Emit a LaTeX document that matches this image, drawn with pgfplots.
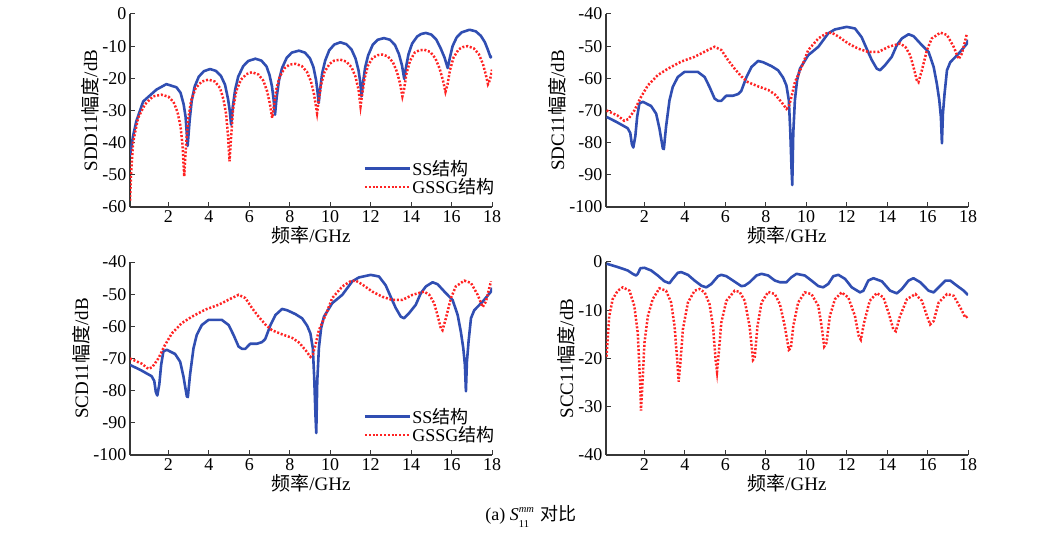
\documentclass[border=0pt]{standalone}
\usepackage{fontspec}
\setmainfont{Liberation Serif}
\newfontfamily\cjk{Noto Sans CJK SC}
\usepackage{pgfplots}
\pgfplotsset{compat=1.18}
\definecolor{sblue}{RGB}{48,78,178}
\definecolor{sred}{RGB}{255,35,35}
\definecolor{axgray}{RGB}{55,55,55}
\pgfplotsset{
 myaxis/.style={
  width=362pt,height=193pt,scale only axis,
  axis x line*=bottom, axis y line*=left,
  axis line style={axgray,line width=1.3pt,-},
  tick align=inside, major tick length=5pt,
  tick style={axgray,line width=1pt},
  xmin=0.1,xmax=18, xtick={2,4,...,18},
  /pgf/number format/assume math mode=true,
  tick label style={font=\fontsize{18}{18}\selectfont},
  label style={font=\fontsize{19}{19}\selectfont},
  xlabel={{\cjk 频率}/GHz},
  xlabel style={yshift=3pt},
  ylabel style={yshift=-3pt},
  legend cell align=left,
  legend style={draw=none,fill=none,font=\fontsize{18}{18}\selectfont,
    at={(0.645,0.25)},anchor=north west,row sep=0pt,inner sep=0pt,
    nodes={inner sep=1pt}},
  legend image code/.code={\draw[##1] (0pt,0pt) -- (45pt,0pt);},
 },
 ss/.style={sblue,line width=2.6pt,line join=round},
 gs/.style={sred,line width=2.5pt,dash pattern=on 2pt off 1.8pt},
}
\begin{document}
\begin{tikzpicture}[x=1pt,y=1pt]
\path[use as bounding box] (0,0) rectangle (1052,535);

% ---------- SDD11 ----------
\begin{axis}[myaxis, at={(130pt,328pt)}, anchor=south west,
  ymin=-60,ymax=0,ytick={-60,-50,...,0}, ylabel={SDD11{\cjk 幅度}/dB}]
\addplot[ss] coordinates {
(0.1,-44)(0.25,-38)(0.41,-33.4)(0.75,-27.2)(1.41,-23.5)(1.9,-21.8)
(2.4,-22.8)(2.6,-24.5)(2.75,-28)(2.85,-32)(2.95,-41)
(3.05,-33)(3.15,-27)(3.3,-22.5)(3.5,-19.5)(3.75,-17.8)(4.06,-17.1)(4.35,-17.7)(4.6,-19.3)(4.8,-22)(4.95,-26.5)(5.03,-30)(5.1,-34.4)
(5.18,-29)(5.3,-23.5)(5.45,-19.5)(5.7,-16.2)(5.95,-14.6)(6.3,-13.9)(6.6,-14.5)(6.85,-16.3)(7.0,-19)(7.12,-22.5)(7.2,-26.5)(7.27,-31.3)
(7.35,-26)(7.47,-20.5)(7.62,-16.8)(7.85,-13.6)(8.1,-12)(8.45,-11.4)(8.75,-12)(9.0,-13.8)(9.17,-16.5)(9.3,-20.5)(9.37,-24)(9.43,-27.7)
(9.5,-23.5)(9.6,-18.5)(9.75,-14.5)(9.95,-11.3)(10.2,-9.5)(10.5,-8.8)(10.8,-9.4)(11.05,-11)(11.25,-13.8)(11.4,-17.5)(11.48,-21)(11.55,-25.6)
(11.62,-21.5)(11.73,-16.5)(11.88,-12.8)(12.1,-9.6)(12.35,-8)(12.66,-7.5)(12.95,-8)(13.2,-9.6)(13.4,-12.5)(13.55,-16)(13.66,-20.2)
(13.75,-16.5)(13.87,-12.5)(14.05,-9.2)(14.3,-7)(14.5,-6.2)(14.73,-5.9)(15.0,-6.4)(15.25,-8)(15.45,-10.5)(15.65,-13.5)(15.81,-16.8)
(15.92,-13.5)(16.05,-10)(16.25,-7.3)(16.5,-5.7)(16.89,-4.9)(17.2,-5.4)(17.45,-6.8)(17.65,-8.8)(17.8,-11.2)(17.93,-13.5)(18,-13)
};
\addlegendentry{SS{\cjk 结构}}
\addplot[gs] coordinates {
(0.1,-58)(0.15,-50)(0.25,-40)(0.5,-32.3)(0.83,-28.2)(1.24,-25.6)(1.66,-25.1)(2.0,-25.7)(2.25,-27.3)(2.45,-30.5)(2.6,-35)(2.7,-41)(2.78,-50.5)
(2.87,-41)(2.97,-33)(3.12,-27)(3.35,-23)(3.65,-21)(3.98,-20.4)(4.3,-21)(4.55,-23)(4.72,-26.5)(4.85,-31)(4.95,-38)(5.02,-45.8)
(5.1,-38)(5.2,-29.5)(5.35,-24)(5.58,-20.5)(5.85,-18.7)(6.13,-18.1)(6.45,-18.8)(6.7,-20.8)(6.88,-24)(7.02,-28)(7.13,-32.3)
(7.22,-28.5)(7.33,-23.5)(7.5,-19.5)(7.75,-16.8)(8.0,-15.7)(8.29,-15.5)(8.6,-16.2)(8.85,-18)(9.05,-21)(9.2,-25)(9.35,-30.8)
(9.43,-27)(9.55,-22)(9.72,-18)(9.97,-15.5)(10.2,-14.5)(10.5,-14.2)(10.8,-14.8)(11.05,-16.5)(11.25,-19.5)(11.4,-23.5)(11.5,-28.7)
(11.58,-25)(11.7,-20)(11.87,-16)(12.1,-13.6)(12.35,-12.8)(12.58,-12.6)(12.85,-13.2)(13.1,-15)(13.3,-18)(13.45,-21.5)(13.57,-25.6)
(13.65,-23.5)(13.77,-18.5)(13.95,-14.5)(14.18,-12)(14.4,-11.3)(14.65,-11.1)(14.95,-11.8)(15.2,-13.8)(15.4,-16.8)(15.57,-20.5)(15.7,-24.2)
(15.8,-22)(15.92,-17.5)(16.1,-13.5)(16.35,-11)(16.55,-10.3)(16.8,-10)(17.1,-10.7)(17.35,-12.5)(17.55,-15.5)(17.7,-19)(17.8,-21.8)(17.9,-20.5)(18,-17.3)
};
\addlegendentry{GSSG{\cjk 结构}}
\end{axis}

% ---------- SDC11 ----------
\begin{axis}[myaxis, at={(606pt,328pt)}, anchor=south west,
  ymin=-100,ymax=-40,ytick={-100,-90,...,-40}, ylabel={SDC11{\cjk 幅度}/dB}]
\addplot[ss] coordinates {
(0.13,-72)(0.6,-73.5)(1.17,-75.5)(1.3,-77)(1.38,-80.5)(1.45,-81.5)(1.55,-78)(1.64,-72)(1.75,-67.8)(1.92,-67.3)(2.33,-68.6)(2.58,-71)(2.74,-75.5)(2.91,-81.8)(2.96,-82)(3.07,-75)(3.24,-66.8)(3.4,-62.7)(3.65,-59.6)(3.98,-58)(4.64,-58)(4.98,-59.6)(5.22,-62.7)(5.47,-66.3)(5.64,-67)(5.8,-67)(6.05,-65.4)(6.38,-65.4)(6.63,-64.9)(6.79,-63.9)(7.04,-59.7)(7.29,-56.5)(7.62,-54.6)(7.87,-55)(8.28,-56.2)(8.61,-57.5)(8.86,-59.8)(9.02,-62.2)(9.14,-66.8)(9.21,-76.1)(9.27,-87.5)(9.31,-93.2)(9.36,-77)(9.44,-66.8)(9.55,-60.5)(9.69,-57)(10.1,-52.8)(10.6,-50.2)(11.09,-46)(11.42,-44.8)(12.0,-44)(12.41,-44.5)(12.74,-47.2)(12.99,-50.8)(13.24,-54.3)(13.49,-57)(13.65,-57.5)(13.9,-55.9)(14.23,-53.3)(14.48,-49.7)(14.73,-47.6)(15.06,-46.3)(15.31,-46.9)(15.72,-49.7)(16.05,-51.8)(16.3,-56.4)(16.46,-61.7)(16.58,-66.8)(16.66,-72)(16.71,-80.2)(16.76,-71)(16.84,-64.8)(16.96,-57.5)(17.12,-55)(17.54,-52.3)(17.95,-49.2)(18,-48)
};
\addplot[gs] coordinates {
(0.13,-70)(0.68,-71.6)(1.0,-73.2)(1.2,-72.7)(1.5,-70)(1.83,-65.8)(2.17,-62.2)(2.66,-59)(3.16,-57)(3.82,-54.8)(4.48,-53.3)(5.14,-51.2)(5.47,-50.2)(5.8,-51.2)(6.13,-54.3)(6.46,-57)(6.79,-59.4)(7.12,-61.2)(7.62,-62.5)(8.12,-63.6)(8.45,-65)(8.78,-67.4)(9.02,-69.5)(9.14,-68.8)(9.27,-65.8)(9.44,-61.2)(9.77,-56.5)(10.1,-51.2)(10.6,-47.6)(11.0,-46)(11.26,-45.8)(11.59,-47)(12.08,-49.2)(12.58,-50.8)(13.07,-51.8)(13.57,-51.8)(14.07,-50.2)(14.64,-49.2)(14.9,-50.2)(15.14,-52.8)(15.3,-56.4)(15.47,-60.6)(15.55,-61.2)(15.72,-57.5)(15.97,-51.2)(16.21,-47.6)(16.63,-45.8)(16.96,-46.5)(17.29,-50.2)(17.54,-54)(17.7,-52.3)(17.95,-46)
};
\end{axis}

% ---------- SCD11 ----------
\begin{axis}[myaxis, at={(130pt,80pt)}, anchor=south west,
  ymin=-100,ymax=-40,ytick={-100,-90,...,-40}, ylabel={SCD11{\cjk 幅度}/dB}]
\addplot[ss] coordinates {
(0.1,-72)(0.6,-73.5)(1.17,-75.5)(1.3,-77)(1.38,-80.5)(1.45,-81.5)(1.55,-78)(1.64,-72)(1.75,-67.8)(1.92,-67.3)(2.33,-68.6)(2.58,-71)(2.74,-75.5)(2.91,-81.8)(2.96,-82)(3.07,-75)(3.24,-66.8)(3.4,-62.7)(3.65,-59.6)(3.98,-58)(4.64,-58)(4.98,-59.6)(5.22,-62.7)(5.47,-66.3)(5.64,-67)(5.8,-67)(6.05,-65.4)(6.38,-65.4)(6.63,-64.9)(6.79,-63.9)(7.04,-59.7)(7.29,-56.5)(7.62,-54.6)(7.87,-55)(8.28,-56.2)(8.61,-57.5)(8.86,-59.8)(9.02,-62.2)(9.14,-66.8)(9.21,-76.1)(9.27,-87.5)(9.31,-93.2)(9.36,-77)(9.44,-66.8)(9.55,-60.5)(9.69,-57)(10.1,-52.8)(10.6,-50.2)(11.09,-46)(11.42,-44.8)(12.0,-44)(12.41,-44.5)(12.74,-47.2)(12.99,-50.8)(13.24,-54.3)(13.49,-57)(13.65,-57.5)(13.9,-55.9)(14.23,-53.3)(14.48,-49.7)(14.73,-47.6)(15.06,-46.3)(15.31,-46.9)(15.72,-49.7)(16.05,-51.8)(16.3,-56.4)(16.46,-61.7)(16.58,-66.8)(16.66,-72)(16.71,-80.2)(16.76,-71)(16.84,-64.8)(16.96,-57.5)(17.12,-55)(17.54,-52.3)(17.95,-49.2)(18,-48)
};
\addlegendentry{SS{\cjk 结构}}
\addplot[gs] coordinates {
(0.1,-70)(0.68,-71.6)(1.0,-73.2)(1.2,-72.7)(1.5,-70)(1.83,-65.8)(2.17,-62.2)(2.66,-59)(3.16,-57)(3.82,-54.8)(4.48,-53.3)(5.14,-51.2)(5.47,-50.2)(5.8,-51.2)(6.13,-54.3)(6.46,-57)(6.79,-59.4)(7.12,-61.2)(7.62,-62.5)(8.12,-63.6)(8.45,-65)(8.78,-67.4)(9.02,-69.5)(9.14,-68.8)(9.27,-65.8)(9.44,-61.2)(9.77,-56.5)(10.1,-51.2)(10.6,-47.6)(11.0,-46)(11.26,-45.8)(11.59,-47)(12.08,-49.2)(12.58,-50.8)(13.07,-51.8)(13.57,-51.8)(14.07,-50.2)(14.64,-49.2)(14.9,-50.2)(15.14,-52.8)(15.3,-56.4)(15.47,-60.6)(15.55,-61.2)(15.72,-57.5)(15.97,-51.2)(16.21,-47.6)(16.63,-45.8)(16.96,-46.5)(17.29,-50.2)(17.54,-54)(17.7,-52.3)(17.95,-46)
};
\addlegendentry{GSSG{\cjk 结构}}
\end{axis}

% ---------- SCC11 ----------
\begin{axis}[myaxis, at={(606pt,80pt)}, anchor=south west,
  ymin=-40,ymax=0,ytick={-40,-30,...,0}, ylabel={SCC11{\cjk 幅度}/dB}]
\addplot[ss] coordinates {
(0.13,-0.35)(0.68,-1.05)(1.17,-1.75)(1.42,-2.45)(1.59,-2.8)(1.67,-2.45)(1.8,-1.3)(2.0,-1.2)(2.33,-1.75)(2.66,-2.8)(2.99,-4)(3.24,-4.4)(3.4,-3.5)(3.65,-2.24)(3.82,-2.1)(4.15,-2.66)(4.48,-3.85)(4.81,-4.9)(5.06,-5.25)(5.31,-4.55)(5.64,-2.94)(5.8,-2.66)(6.05,-2.94)(6.38,-3.85)(6.79,-5.0)(6.96,-4.9)(7.2,-4.2)(7.54,-2.8)(7.79,-2.45)(8.12,-2.8)(8.45,-3.85)(8.7,-4.2)(9.02,-4.2)(9.27,-3.15)(9.52,-2.45)(9.93,-2.8)(10.26,-3.85)(10.6,-5.0)(10.84,-5.25)(11.09,-4.55)(11.34,-2.94)(11.59,-2.66)(11.92,-3.5)(12.25,-5.25)(12.66,-6.3)(12.83,-5.95)(13.07,-3.85)(13.32,-3.36)(13.74,-4)(14.15,-5.95)(14.48,-6.5)(14.73,-5.6)(15.06,-3.85)(15.3,-3.36)(15.64,-4.2)(16.05,-5.95)(16.3,-6.3)(16.55,-5.25)(16.88,-3.85)(17.12,-3.85)(17.45,-4.9)(17.79,-5.95)(18,-6.85)
};
\addplot[gs] coordinates {
(0.13,-19.6)(0.26,-11.2)(0.43,-7.7)(0.68,-5.95)(0.93,-5.25)(1.26,-5.95)(1.5,-9.1)(1.67,-14.7)(1.79,-25.2)(1.83,-30.8)(1.92,-23.8)(2.0,-16.8)(2.17,-11.2)(2.41,-7.7)(2.74,-5.45)(3.07,-5.95)(3.32,-8.4)(3.49,-13.3)(3.62,-20.3)(3.69,-24.8)(3.79,-20.3)(3.9,-14)(4.15,-8.4)(4.48,-5.95)(4.73,-5.6)(4.98,-6.3)(5.22,-8.75)(5.39,-13.3)(5.52,-20.3)(5.59,-22.75)(5.69,-18.2)(5.8,-12.6)(6.05,-8.05)(6.46,-5.95)(6.71,-6.2)(6.96,-8.05)(7.2,-13.3)(7.37,-20.3)(7.45,-19.9)(7.59,-13.3)(7.79,-8.4)(8.12,-6.2)(8.45,-6.65)(8.7,-8.75)(8.94,-13.3)(9.14,-18.2)(9.24,-17.85)(9.36,-13.3)(9.6,-8.4)(9.93,-6.3)(10.26,-6.65)(10.6,-9.1)(10.76,-13.3)(10.89,-17.5)(11.0,-16.8)(11.17,-11.2)(11.42,-7.7)(11.75,-6.3)(12.08,-7.35)(12.41,-11.2)(12.6,-15.4)(12.7,-16.1)(12.86,-12.6)(13.14,-8.05)(13.49,-6.44)(13.82,-7.35)(14.07,-10.5)(14.31,-14)(14.43,-14.35)(14.64,-11.2)(14.98,-7.7)(15.4,-6.65)(15.72,-8.05)(15.97,-11.2)(16.13,-12.95)(16.3,-12.25)(16.55,-8.4)(16.96,-6.65)(17.29,-7)(17.62,-9.45)(17.87,-11.55)(18,-11.2)
};
\end{axis}

\node[font=\fontsize{18}{18}\selectfont,inner sep=0pt] at (531,19) {(a) \textit{S}\rlap{\raisebox{-7pt}{\fontsize{10.5}{10.5}\selectfont 11}}\raisebox{8pt}{\fontsize{10.5}{10.5}\selectfont\itshape mm}\hspace{2pt} {\cjk 对比}};
\end{tikzpicture}
\end{document}
